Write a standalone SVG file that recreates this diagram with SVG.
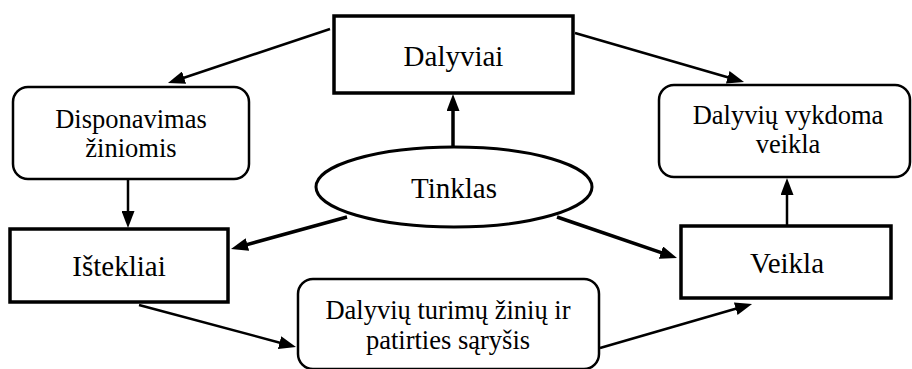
<svg xmlns="http://www.w3.org/2000/svg" width="912" height="369" viewBox="0 0 912 369">
<style>
.box{fill:#fff;stroke:#000;stroke-width:3.5}
.rbox{fill:#fff;stroke:#000;stroke-width:2.5}
.ell{fill:#fff;stroke:#000;stroke-width:3}
.t{font-family:"Liberation Serif","Times New Roman",serif;fill:#000;text-anchor:middle}
.big{font-size:29px}
.sm{font-size:26.5px}
.c{stroke:#000;fill:none}
.thin{stroke-width:2.5}
.thick{stroke-width:3.5}
</style>
<defs>
<marker id="ah" markerUnits="userSpaceOnUse" markerWidth="17" markerHeight="13" refX="8" refY="6.5" orient="auto">
<path d="M0,0 L17,6.5 L0,13 z" fill="#000"/>
</marker>
</defs>
<rect width="912" height="369" fill="#fff"/>
<g id="connectors">
<line class="c thin" x1="330" y1="29" x2="176.5" y2="80.2" marker-end="url(#ah)"/>
<line class="c thin" x1="575" y1="33" x2="735.4" y2="79.5" marker-end="url(#ah)"/>
<line class="c thick" x1="453" y1="147" x2="453" y2="103" marker-end="url(#ah)"/>
<line class="c thin" x1="128" y1="179" x2="128" y2="219" marker-end="url(#ah)"/>
<line class="c thick" x1="347" y1="217" x2="239.7" y2="246.6" marker-end="url(#ah)"/>
<line class="c thick" x1="557" y1="217" x2="668.5" y2="255.1" marker-end="url(#ah)"/>
<line class="c thin" x1="139" y1="305" x2="287.3" y2="344.7" marker-end="url(#ah)"/>
<line class="c thin" x1="600" y1="348" x2="743.4" y2="306.5" marker-end="url(#ah)"/>
<line class="c thin" x1="787" y1="226" x2="787" y2="187" marker-end="url(#ah)"/>
</g>
<g id="dalyviai">
<rect class="box" x="334" y="16" width="239" height="77"/>
<text class="t big" x="453.5" y="66">Dalyviai</text>
</g>
<g id="disponavimas">
<rect class="rbox" x="13" y="87" width="236" height="92" rx="15"/>
<text class="t sm" x="131" y="128">Disponavimas</text>
<text class="t sm" x="131" y="157">žiniomis</text>
</g>
<g id="vykdoma">
<rect class="rbox" x="659" y="85" width="251" height="92" rx="15"/>
<text class="t sm" x="788" y="124">Dalyvių vykdoma</text>
<text class="t sm" x="788" y="153">veikla</text>
</g>
<g id="tinklas">
<ellipse class="ell" cx="454" cy="187" rx="138" ry="40"/>
<text class="t big" x="454" y="198">Tinklas</text>
</g>
<g id="istekliai">
<rect class="box" x="10" y="229" width="218" height="73"/>
<text class="t big" x="119" y="276">Ištekliai</text>
</g>
<g id="veikla">
<rect class="box" x="681" y="226" width="210" height="72"/>
<text class="t big" x="787" y="273">Veikla</text>
</g>
<g id="turimu">
<rect class="rbox" x="298" y="279" width="301" height="90" rx="15"/>
<text class="t sm" x="448" y="319">Dalyvių turimų žinių ir</text>
<text class="t sm" x="448" y="349">patirties sąryšis</text>
</g>
</svg>
